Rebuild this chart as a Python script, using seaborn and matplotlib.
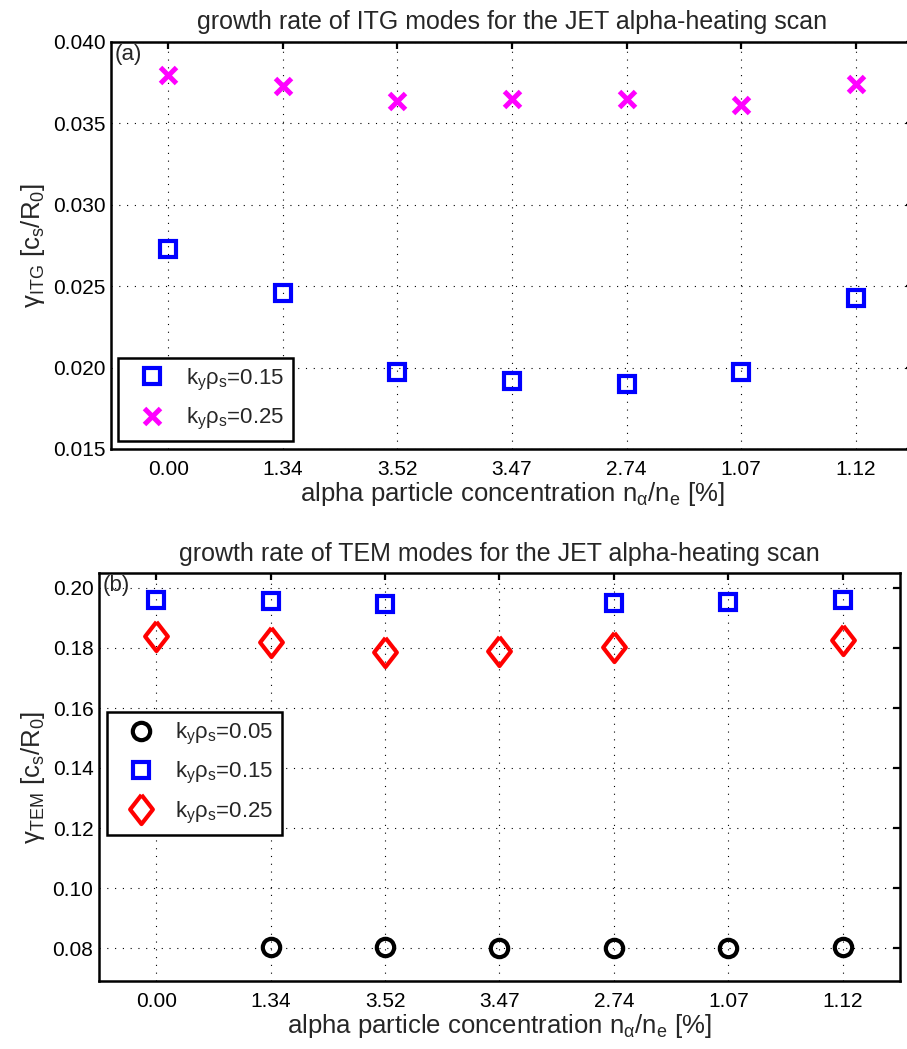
import numpy as np
import matplotlib
matplotlib.use("Agg")
import matplotlib.pyplot as plt
import seaborn as sns

# alpha particle concentration n_alpha/n_e [%] for each case of the scan
concentrations = ["0.00", "1.34", "3.52", "3.47", "2.74", "1.07", "1.12"]

# ITG growth rates [c_s/R_0]
itg_k015 = [0.0273, 0.0246, 0.0197, 0.0192, 0.0190, 0.0197, 0.0243]
itg_k025 = [0.0380, 0.0373, 0.0364, 0.0365, 0.0365, 0.0361, 0.0374]

# TEM growth rates [c_s/R_0] (nan: no unstable TEM found)
tem_k005 = [np.nan, 0.0802, 0.0802, 0.0801, 0.0801, 0.0800, 0.0802]
tem_k015 = [0.1960, 0.1957, 0.1947, np.nan, 0.1949, 0.1954, 0.1960]
tem_k025 = [0.1840, 0.1820, 0.1787, 0.1791, 0.1802, np.nan, 0.1827]

itg_ticks = [0.015, 0.020, 0.025, 0.030, 0.035, 0.040]
tem_ticks = [0.08, 0.10, 0.12, 0.14, 0.16, 0.18, 0.20]

sns.set_theme(style="white")
plt.rcParams["font.family"] = ["Liberation Sans", "DejaVu Sans"]
plt.rcParams["mathtext.fontset"] = "custom"
plt.rcParams["mathtext.rm"] = "Liberation Sans"
plt.rcParams["mathtext.it"] = "Liberation Sans"
plt.rcParams["mathtext.bf"] = "Liberation Sans:bold"
plt.rcParams["mathtext.default"] = "regular"

FS_TICK = 15
FS_LABEL = 18.5
FS_TITLE = 18
FS_LEG = 16
FS_TAG = 16
pos = np.arange(len(concentrations))

# tall diamond marker
diamond = [(0, 1), (0.78, 0), (0, -1), (-0.78, 0), (0, 1)]

fig = plt.figure(figsize=(9.07, 10.49), dpi=100)
W, H = 907, 1049
ax1 = fig.add_axes([111 / W, 1 - 449 / H, 802 / W, 407 / H])
ax2 = fig.add_axes([99 / W, 1 - 981 / H, 801 / W, 408 / H])


def series(ax, vals, marker, color, size, label, hollow=True, mew=3.0):
    kw = dict(linestyle="", marker=marker, markersize=size,
              markeredgewidth=mew, markeredgecolor=color, color=color,
              label=label, ax=ax, legend=False)
    if hollow:
        kw["markerfacecolor"] = "none"
    sns.lineplot(x=pos, y=vals, **kw)


def style_axes(ax, ticks, fmt, ylim, ylabel, title, tag):
    ax.set_xlim(-0.5, len(concentrations) - 0.5)
    ax.set_ylim(*ylim)
    ax.set_xticks(pos)
    ax.set_xticklabels(concentrations)
    ax.set_yticks(ticks)
    ax.set_yticklabels([fmt % t for t in ticks])
    ax.grid(True, color="black", linestyle=(0, (1, 6)), linewidth=0.8)
    for s in ax.spines.values():
        s.set_visible(True)
        s.set_color("black")
        s.set_linewidth(1.8)
    ax.tick_params(direction="in", length=5, width=1.6, top=True, right=True,
                   labelsize=FS_TICK, colors="black", pad=8)
    ax.tick_params(axis="y", pad=4)
    ax.set_xlabel(r"alpha particle concentration n$_{\alpha}$/n$_{e}$ [%]",
                  fontsize=FS_LABEL, labelpad=1)
    ax.set_ylabel(ylabel, fontsize=FS_LABEL, labelpad=4)
    ax.set_title(title, fontsize=FS_TITLE, pad=9)
    ax.annotate(tag, xy=(0, 1), xycoords="axes fraction",
                xytext=(4, -2), textcoords="offset pixels",
                ha="left", va="top", fontsize=FS_TAG)


def add_legend(ax, **anchor):
    leg = ax.legend(borderaxespad=0, fontsize=FS_LEG, frameon=True,
                    fancybox=False, framealpha=1, edgecolor="black",
                    handletextpad=0.35, labelspacing=0.6, borderpad=0.4,
                    handlelength=2.3, **anchor)
    leg.get_frame().set_linewidth(1.8)
    return leg


# (a) ITG
series(ax1, itg_k015, "s", "#0000ff", 11.5, r"k$_y$ρ$_s$=0.15")
series(ax1, itg_k025, "x", "#ff00ff", 11, r"k$_y$ρ$_s$=0.25",
       hollow=False, mew=3.6)
style_axes(ax1, itg_ticks, "%.3f", (0.015, 0.040),
           r"γ$_{ITG}$ [c$_s$/R$_0$]",
           "growth rate of ITG modes for the JET alpha-heating scan", "(a)")
add_legend(ax1, loc="lower left", bbox_to_anchor=(7 / 802, 8 / 407))

# (b) TEM
series(ax2, tem_k005, "o", "black", 12.5, r"k$_y$ρ$_s$=0.05")
series(ax2, tem_k015, "s", "#0000ff", 11.5, r"k$_y$ρ$_s$=0.15")
series(ax2, tem_k025, diamond, "#ff0000", 21, r"k$_y$ρ$_s$=0.25")
style_axes(ax2, tem_ticks, "%.2f", (0.069, 0.205),
           r"γ$_{TEM}$ [c$_s$/R$_0$]",
           "growth rate of TEM modes for the JET alpha-heating scan", "(b)")
add_legend(ax2, loc="upper left", bbox_to_anchor=(8 / 801, 1 - 139 / 408))

fig.savefig("out.png", dpi=100, facecolor="white")
